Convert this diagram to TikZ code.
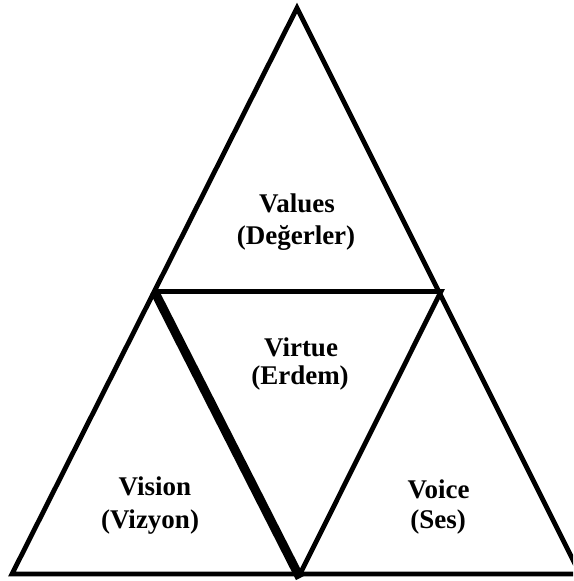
\documentclass[tikz,border=0pt]{standalone}
\usepackage{fontspec}
\setmainfont{Liberation Serif}
\usetikzlibrary{calc}
\begin{document}
\begin{tikzpicture}[x=1pt,y=-1pt,
  edge/.style={line width=4.8pt,line join=miter,line cap=butt},
  heavy/.style={line width=9pt,line cap=butt},
  lbl/.style={anchor=base,inner sep=0pt,font=\fontsize{27}{31}\selectfont\bfseries}]
  \useasboundingbox (0,0) rectangle (573,581);
  \clip (0,0) rectangle (573,581);
  % corners of the outer triangle and the midpoints of its sides
  \coordinate (top) at (297,8);
  \coordinate (bl) at (12,574);
  \coordinate (br) at (580,574);
  \coordinate (ml) at (154.5,291.5);
  \coordinate (mr) at (441,291.5);
  \coordinate (mb) at (300,574);
  % outer triangle and the inner inverted triangle
  \draw[edge] (top) -- (bl) -- (br) -- cycle;
  \draw[edge] (ml) -- (mr) -- (mb);
  \draw[heavy] (ml) -- ($(mb)+(0,4)$);
  % labels
  \node[lbl] (values) at (297,212) {Values};
  \node[lbl] (valuestr) at (296,244) {(Değerler)};
  \node[lbl] (virtue) at (301,356) {Virtue};
  \node[lbl] (virtuetr) at (300,384) {(Erdem)};
  \node[lbl] (vision) at (155,495) {Vision};
  \node[lbl] (visiontr) at (150,528) {(Vizyon)};
  \node[lbl] (voice) at (438.5,498) {Voice};
  \node[lbl] (voicetr) at (438,528) {(Ses)};
\end{tikzpicture}
\end{document}
